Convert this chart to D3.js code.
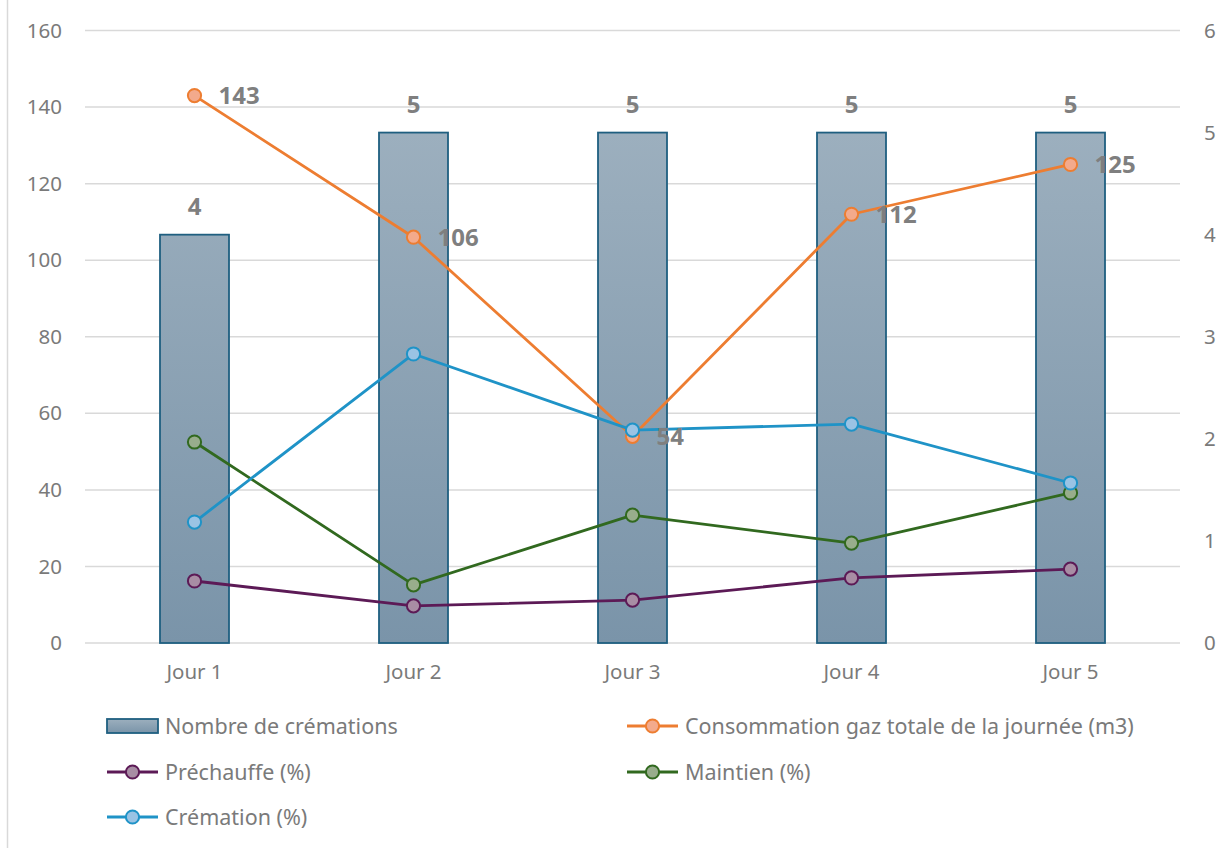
<!DOCTYPE html>
<html><head><meta charset="utf-8">
<script src="https://cdn.jsdelivr.net/npm/d3@7"></script>
<style>
html,body{margin:0;padding:0;background:#fff;}
svg{display:block;font-family:"Noto Sans",sans-serif;}
</style></head>
<body>
<svg id="chart" width="1231" height="848"></svg>
<script>
const categories = ["Jour 1","Jour 2","Jour 3","Jour 4","Jour 5"];
const cremationsCount = [4,5,5,5,5];
const gasTotal = [143,106,54,112,125];
const prechauffe = [16.2,9.7,11.2,17.0,19.3];
const maintien = [52.5,15.2,33.4,26.1,39.2];
const cremationPct = [31.6,75.5,55.6,57.2,41.8];
const leftTicks = [0,20,40,60,80,100,120,140,160];
const rightTicks = [0,1,2,3,4,5,6];

const svg = d3.select("#chart");
const margin = {left:85, right:1180, top:30.5, bottom:643};
const x = d3.scaleBand().domain(categories).range([margin.left, margin.right]);
const yL = d3.scaleLinear().domain([0,160]).range([margin.bottom, margin.top]);
const yR = d3.scaleLinear().domain([0,6]).range([margin.bottom, margin.top]);
const textCol = "#7a7a7a";

svg.append("line").attr("x1",7.5).attr("x2",7.5).attr("y1",0).attr("y2",848).attr("stroke","#d9d9d9").attr("stroke-width",1.5);

svg.append("g").selectAll("line").data(leftTicks).join("line")
  .attr("x1",margin.left).attr("x2",margin.right)
  .attr("y1",d=>yL(d)).attr("y2",d=>yL(d))
  .attr("stroke","#d9d9d9").attr("stroke-width",1.5);

const axL = d3.axisLeft(yL).tickValues(leftTicks).tickSize(0).tickPadding(0).tickFormat(d3.format("d"));
const gL = svg.append("g").attr("transform","translate(62,0)").call(axL);
gL.select(".domain").remove();
gL.selectAll("text").attr("fill",textCol).attr("font-size","20.5px").style("font-family","Noto Sans");

const axR = d3.axisRight(yR).tickValues(rightTicks).tickSize(0).tickPadding(0).tickFormat(d3.format("d"));
const gR = svg.append("g").attr("transform","translate(1204,0)").call(axR);
gR.select(".domain").remove();
gR.selectAll("text").attr("fill",textCol).attr("font-size","20.5px").style("font-family","Noto Sans");

const axX = d3.axisBottom(x).tickSize(0).tickPadding(0);
const gX = svg.append("g").attr("transform","translate(0,664)").call(axX);
gX.select(".domain").remove();
gX.selectAll("text").attr("fill",textCol).attr("font-size","20.5px").style("font-family","Noto Sans");

const defs = svg.append("defs");
const grad = defs.append("linearGradient").attr("id","barGrad").attr("gradientUnits","userSpaceOnUse")
  .attr("x1",0).attr("y1",yR(5)).attr("x2",0).attr("y2",yR(0));
grad.append("stop").attr("offset","0%").attr("stop-color","#9cafbe");
grad.append("stop").attr("offset","100%").attr("stop-color","#7a94a9");
const lgGrad = defs.append("linearGradient").attr("id","legGrad").attr("x1",0).attr("y1",0).attr("x2",0).attr("y2",1);
lgGrad.append("stop").attr("offset","0%").attr("stop-color","#9cafbe");
lgGrad.append("stop").attr("offset","100%").attr("stop-color","#7a94a9");

const bw = 69;
svg.append("g").selectAll("rect").data(cremationsCount).join("rect")
  .attr("x",(d,i)=>x(categories[i])+x.bandwidth()/2-bw/2)
  .attr("width",bw)
  .attr("y",d=>yR(d))
  .attr("height",d=>yR(0)-yR(d))
  .attr("fill","url(#barGrad)")
  .attr("stroke","#1f5f80").attr("stroke-width",1.8);

svg.append("g").selectAll("text").data(cremationsCount).join("text")
  .attr("x",(d,i)=>x(categories[i])+x.bandwidth()/2)
  .attr("y",d=>yR(d)-20)
  .attr("text-anchor","middle").attr("fill","#7f7f7f")
  .attr("font-size","24px").attr("font-weight","bold")
  .text(d=>d);

const series = [
  {name:"Consommation gaz totale de la journée (m3)", values:gasTotal, stroke:"#ed7d31", fill:"#f3aa8c"},
  {name:"Préchauffe (%)", values:prechauffe, stroke:"#5c1a56", fill:"#a88da4"},
  {name:"Maintien (%)", values:maintien, stroke:"#31691f", fill:"#98ad8c"},
  {name:"Crémation (%)", values:cremationPct, stroke:"#1f93c7", fill:"#9ac3e4"}
];
const cx = i => x(categories[i]) + x.bandwidth()/2;
const line = d3.line().x((d,i)=>cx(i)).y(d=>yL(d));
series.forEach(s=>{
  svg.append("path").datum(s.values).attr("d",line)
    .attr("fill","none").attr("stroke",s.stroke).attr("stroke-width",2.8).attr("stroke-linejoin","round");
  svg.append("g").selectAll("circle").data(s.values).join("circle")
    .attr("cx",(d,i)=>cx(i)).attr("cy",d=>yL(d)).attr("r",6.6)
    .attr("fill",s.fill).attr("stroke",s.stroke).attr("stroke-width",2);
});

svg.append("g").selectAll("text").data(gasTotal).join("text")
  .attr("x",(d,i)=>cx(i)+24).attr("y",d=>yL(d)+8.5)
  .attr("fill","#7f7f7f").attr("font-size","24px").attr("font-weight","bold")
  .text(d=>d);

const legend = [
  {type:"bar", name:"Nombre de crémations", x:107, y:726},
  {type:"line", s:series[0], x:627, y:726},
  {type:"line", s:series[1], x:107, y:772},
  {type:"line", s:series[2], x:627, y:772},
  {type:"line", s:series[3], x:107, y:817}
];
const lg = svg.append("g");
legend.forEach(l=>{
  const g = lg.append("g");
  if(l.type==="bar"){
    g.append("rect").attr("x",l.x).attr("y",l.y-7).attr("width",51).attr("height",14)
      .attr("fill","url(#legGrad)").attr("stroke","#1f5f80").attr("stroke-width",1.8);
  } else {
    g.append("line").attr("x1",l.x).attr("x2",l.x+51).attr("y1",l.y).attr("y2",l.y)
      .attr("stroke",l.s.stroke).attr("stroke-width",2.8);
    g.append("circle").attr("cx",l.x+25.5).attr("cy",l.y).attr("r",6.6)
      .attr("fill",l.s.fill).attr("stroke",l.s.stroke).attr("stroke-width",2);
  }
  g.append("text").attr("x",l.x+58).attr("y",l.y).attr("dy","0.35em")
    .attr("fill",textCol).attr("font-size","21.5px")
    .text(l.type==="bar"?l.name:l.s.name);
});
</script>
</body></html>
